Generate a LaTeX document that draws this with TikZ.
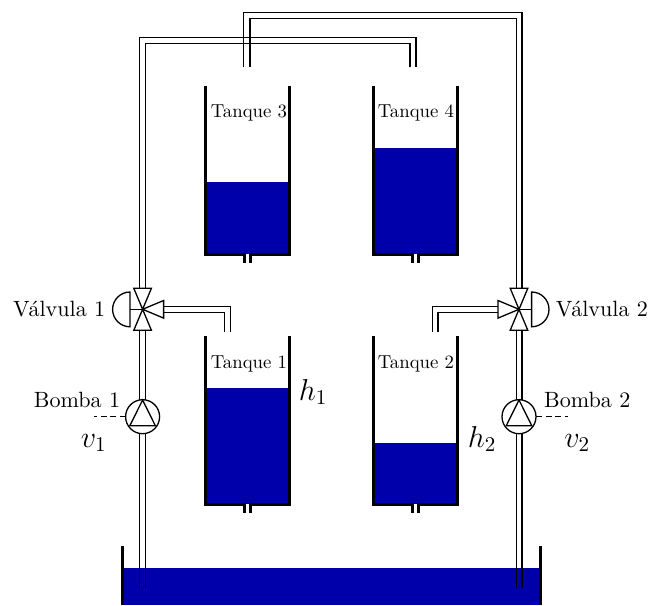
\documentclass[tikz,border=0pt]{standalone}
\definecolor{water}{RGB}{0,0,170}
\tikzset{
  wall/.style={line width=3pt,line cap=butt,line join=miter},
  pipe/.style={line width=1.3pt,line join=miter},
  part/.style={line width=1.3pt,line join=miter,fill=white},
  big/.style={inner sep=0pt,scale=2.21},
  tanklabel/.style={inner sep=0pt,scale=1.88,font=\normalsize},
  mathlabel/.style={inner sep=0pt,scale=2.1,font=\Large},
}
\newcommand{\tankdraw}[3]{% left x, top y, water y
  \fill[water] (#1,#3) rectangle ++(84,{#2+168-#3});
  \draw[wall] (#1,#2) -- (#1,#2+168) -- (#1+39,#2+168) -- (#1+39,#2+177);
  \draw[wall] (#1+84,#2) -- (#1+84,#2+168) -- (#1+45,#2+168) -- (#1+45,#2+177);
}
\begin{document}
\begin{tikzpicture}[x=1pt,y=-1pt]
\useasboundingbox (0,0) rectangle (660,605);
% reservoir
\fill[water] (122,568) rectangle (540,605);
\draw[wall] (122,546) -- (122,605);
\draw[wall] (540,546) -- (540,605);
% tanks
\tankdraw{205.3}{86}{182}
\tankdraw{373}{86}{148}
\tankdraw{205.3}{336}{388}
\tankdraw{373}{336}{443}
% key points
\coordinate (V1) at (142.6,309.3);
\coordinate (V2) at (519,309.3);
\coordinate (P1) at (142.6,416.7);
\coordinate (P2) at (519,416.7);
% pipes
\draw[pipe] (139.8,290) -- (139.8,37.7) -- (416,37.7) -- (416,67);
\draw[pipe] (145.5,290) -- (145.5,43.5) -- (410,43.5) -- (410,67);
\draw[pipe] (243.8,67) -- (243.8,12.7) -- (521.9,12.7) -- (521.9,290);
\draw[pipe] (250,67) -- (250,18.4) -- (516.2,18.4) -- (516.2,290);
\draw[pipe] (139.8,330) -- (139.8,400);
\draw[pipe] (145.5,330) -- (145.5,400);
\draw[pipe] (516.2,330) -- (516.2,400);
\draw[pipe] (521.9,330) -- (521.9,400);
\draw[pipe] (139.8,433) -- (139.8,587.5);
\draw[pipe] (145.5,433) -- (145.5,587.5);
\draw[pipe] (516.2,433) -- (516.2,587.5);
\draw[pipe] (521.9,433) -- (521.9,587.5);
\draw[pipe] (163,306.3) -- (230.6,306.3) -- (230.6,331.7);
\draw[pipe] (163,312.3) -- (224.6,312.3) -- (224.6,331.7);
\draw[pipe] (498,306.3) -- (432.3,306.3) -- (432.3,331.7);
\draw[pipe] (498,312.3) -- (437.9,312.3) -- (437.9,331.7);
% valve 1
\draw[part] (V1) -- ++(-8.8,-21) -- ++(17.6,0) -- cycle;
\draw[part] (V1) -- ++(-8.8,21) -- ++(17.6,0) -- cycle;
\draw[part] (V1) -- ++(21,-8.8) -- ++(0,17.6) -- cycle;
\draw[pipe] (V1) -- ++(-12.6,0);
\draw[pipe] (130,292) arc[start angle=-90,end angle=-270,radius=17.4] -- cycle;
% valve 2
\draw[part] (V2) -- ++(-8.8,-21) -- ++(17.6,0) -- cycle;
\draw[part] (V2) -- ++(-8.8,21) -- ++(17.6,0) -- cycle;
\draw[part] (V2) -- ++(-21,-8.8) -- ++(0,17.6) -- cycle;
\draw[pipe] (V2) -- ++(12.6,0);
\draw[pipe] (531.6,292) arc[start angle=-90,end angle=90,radius=17.4] -- cycle;
% pump 1
\draw[part] (P1) circle[radius=17];
\draw[pipe] (142.6,400) -- (129.8,425.8) -- (155.4,425.8) -- cycle;
\draw[pipe,dash pattern=on 6pt off 3.5pt] (125.6,416.7) -- (94,416.7);
% pump 2
\draw[part] (P2) circle[radius=17];
\draw[pipe] (519,400) -- (506.2,425.8) -- (531.8,425.8) -- cycle;
\draw[pipe,dash pattern=on 6pt off 3.5pt] (536,416.7) -- (567.7,416.7);
% labels
\node[big,anchor=base west] (lv1) at (12.7,316.7) {V\'alvula 1};
\node[big,anchor=base west] (lv2) at (555.5,316.7) {V\'alvula 2};
\node[big,anchor=base west] (lb1) at (33.5,407.5) {Bomba 1};
\node[big,anchor=base west] (lb2) at (543.7,407.5) {Bomba 2};
\node[tanklabel,anchor=base west] (t3) at (210.5,117.3) {Tanque 3};
\node[tanklabel,anchor=base west] (t4) at (377.5,117.3) {Tanque 4};
\node[tanklabel,anchor=base west] (t1) at (210.5,368.3) {Tanque 1};
\node[tanklabel,anchor=base west] (t2) at (377.5,368.3) {Tanque 2};
\node[mathlabel,anchor=base west] (h1) at (298.5,400) {$h_1$};
\node[mathlabel,anchor=base west] (h2) at (467.5,447) {$h_2$};
\node[mathlabel,anchor=base west] (u1) at (80.5,447) {$v_1$};
\node[mathlabel,anchor=base west] (u2) at (564,447) {$v_2$};
\end{tikzpicture}
\end{document}
